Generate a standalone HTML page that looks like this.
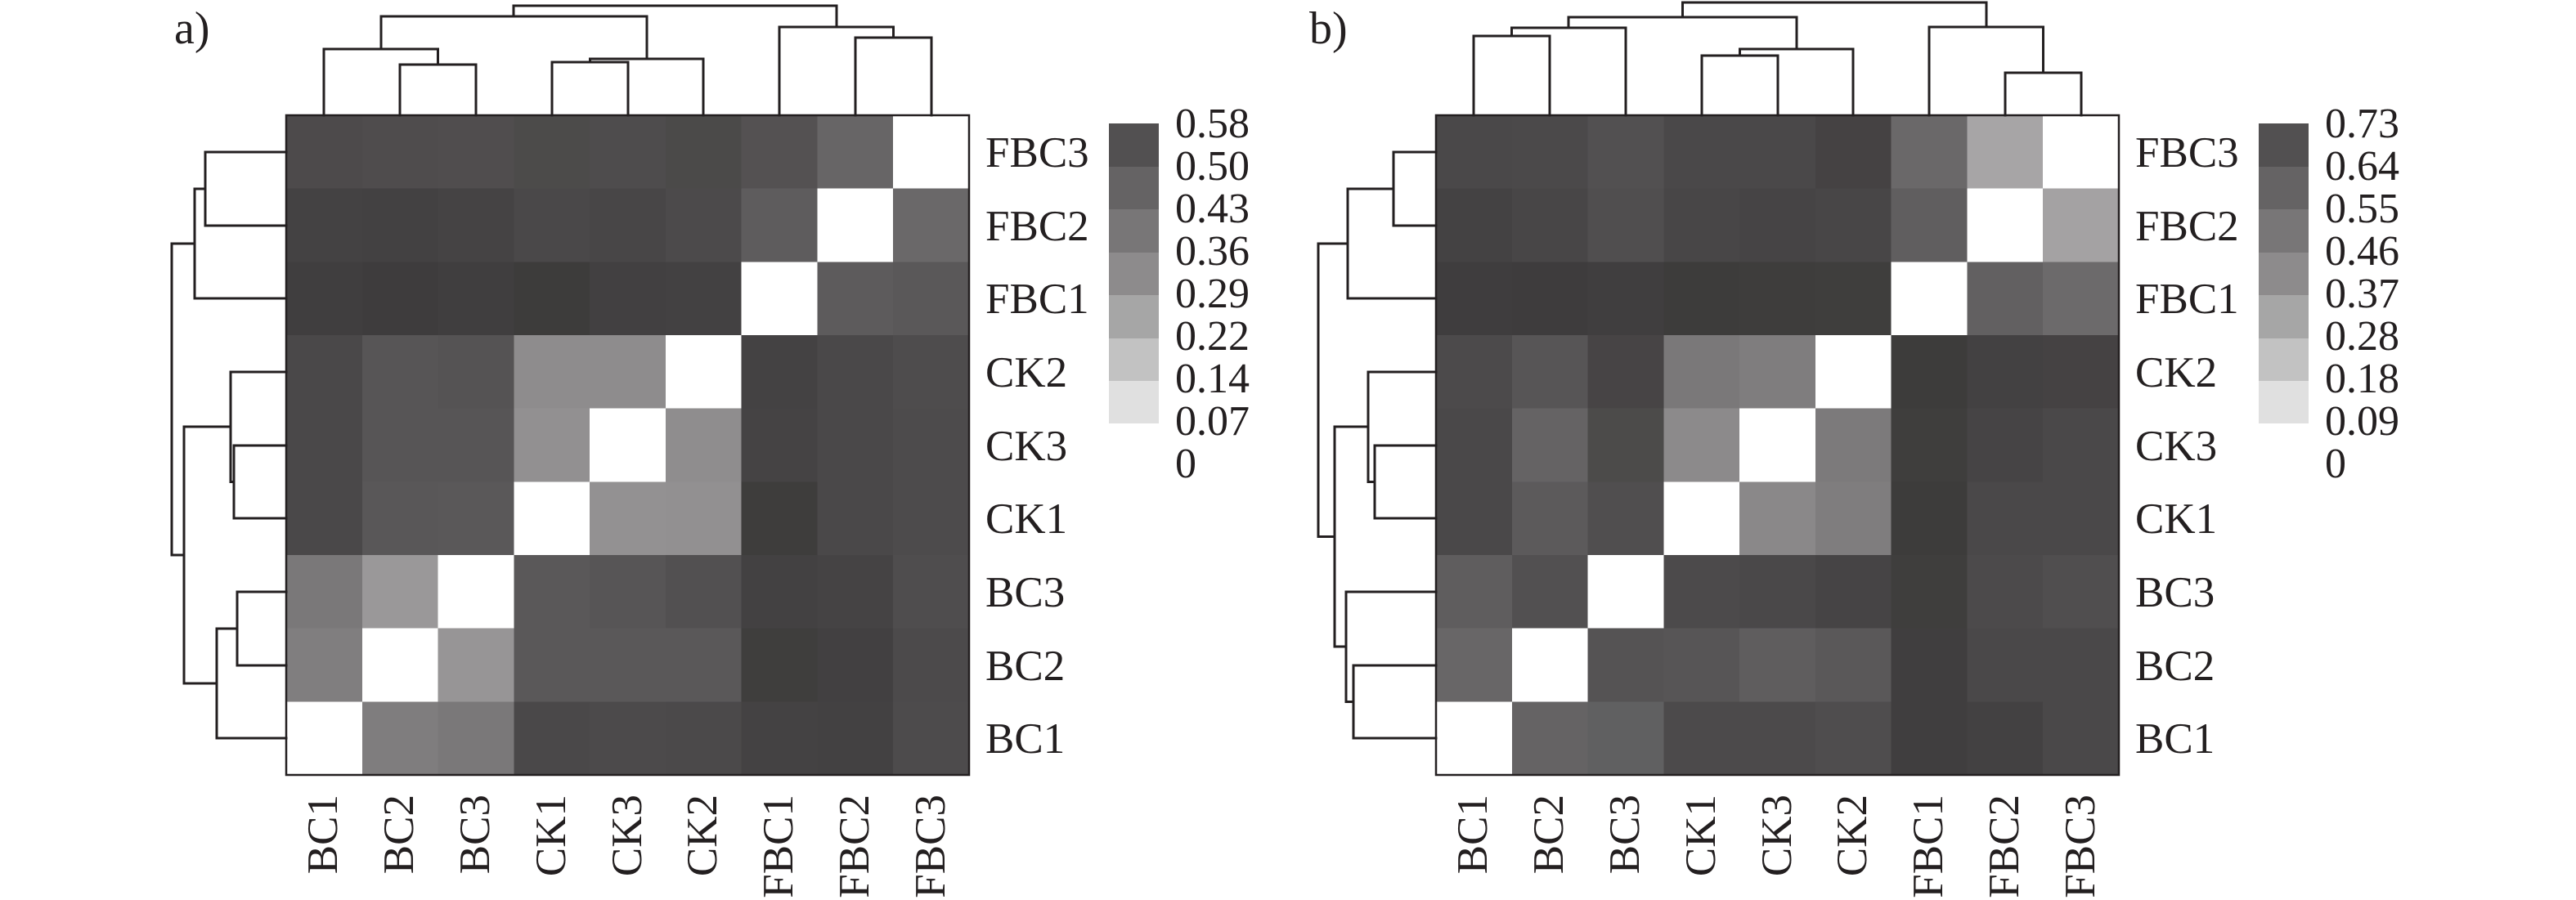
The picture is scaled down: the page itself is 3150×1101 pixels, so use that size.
<!DOCTYPE html>
<html><head><meta charset="utf-8"><style>
html,body{margin:0;padding:0;background:#fff;}
svg{display:block;}
text{font-family:"Liberation Serif",serif;fill:#231f20;}
</style></head><body>
<svg width="3150" height="1101" viewBox="0 0 3150 1101" xmlns="http://www.w3.org/2000/svg">
<rect width="3150" height="1101" fill="#fff"/>

<!-- ===== Panel A ===== -->
<g>
<text x="213" y="53" font-size="56">a)</text>
<svg x="350" y="141" width="835" height="807" viewBox="0 0 9 9" preserveAspectRatio="none" shape-rendering="crispEdges">
<rect x="0" y="0" width="1" height="1" fill="#4d4a4b"/><rect x="1" y="0" width="1" height="1" fill="#4f4c4d"/><rect x="2" y="0" width="1" height="1" fill="#504d4e"/><rect x="3" y="0" width="1" height="1" fill="#4c4b4a"/><rect x="4" y="0" width="1" height="1" fill="#4e4c4d"/><rect x="5" y="0" width="1" height="1" fill="#4b4a49"/><rect x="6" y="0" width="1" height="1" fill="#545152"/><rect x="7" y="0" width="1" height="1" fill="#676566"/><rect x="8" y="0" width="1" height="1" fill="#fff"/>
<rect x="0" y="1" width="1" height="1" fill="#444243"/><rect x="1" y="1" width="1" height="1" fill="#434142"/><rect x="2" y="1" width="1" height="1" fill="#454344"/><rect x="3" y="1" width="1" height="1" fill="#4a4849"/><rect x="4" y="1" width="1" height="1" fill="#484647"/><rect x="5" y="1" width="1" height="1" fill="#4c4a4b"/><rect x="6" y="1" width="1" height="1" fill="#5e5c5d"/><rect x="7" y="1" width="1" height="1" fill="#fff"/><rect x="8" y="1" width="1" height="1" fill="#6a6869"/>
<rect x="0" y="2" width="1" height="1" fill="#403e3f"/><rect x="1" y="2" width="1" height="1" fill="#3e3c3d"/><rect x="2" y="2" width="1" height="1" fill="#403e3f"/><rect x="3" y="2" width="1" height="1" fill="#3d3c3b"/><rect x="4" y="2" width="1" height="1" fill="#424041"/><rect x="5" y="2" width="1" height="1" fill="#434142"/><rect x="6" y="2" width="1" height="1" fill="#fff"/><rect x="7" y="2" width="1" height="1" fill="#5d5b5c"/><rect x="8" y="2" width="1" height="1" fill="#5a5859"/>
<rect x="0" y="3" width="1" height="1" fill="#4a4849"/><rect x="1" y="3" width="1" height="1" fill="#575556"/><rect x="2" y="3" width="1" height="1" fill="#555354"/><rect x="3" y="3" width="1" height="1" fill="#8e8c8d"/><rect x="4" y="3" width="1" height="1" fill="#8e8c8d"/><rect x="5" y="3" width="1" height="1" fill="#fff"/><rect x="6" y="3" width="1" height="1" fill="#444243"/><rect x="7" y="3" width="1" height="1" fill="#4a4849"/><rect x="8" y="3" width="1" height="1" fill="#4e4c4d"/>
<rect x="0" y="4" width="1" height="1" fill="#4a4849"/><rect x="1" y="4" width="1" height="1" fill="#575556"/><rect x="2" y="4" width="1" height="1" fill="#575556"/><rect x="3" y="4" width="1" height="1" fill="#929091"/><rect x="4" y="4" width="1" height="1" fill="#fff"/><rect x="5" y="4" width="1" height="1" fill="#8f8d8e"/><rect x="6" y="4" width="1" height="1" fill="#454344"/><rect x="7" y="4" width="1" height="1" fill="#4a4849"/><rect x="8" y="4" width="1" height="1" fill="#4d4b4c"/>
<rect x="0" y="5" width="1" height="1" fill="#4a4849"/><rect x="1" y="5" width="1" height="1" fill="#595758"/><rect x="2" y="5" width="1" height="1" fill="#5a5859"/><rect x="3" y="5" width="1" height="1" fill="#fff"/><rect x="4" y="5" width="1" height="1" fill="#939192"/><rect x="5" y="5" width="1" height="1" fill="#929091"/><rect x="6" y="5" width="1" height="1" fill="#3e3d3c"/><rect x="7" y="5" width="1" height="1" fill="#4a4849"/><rect x="8" y="5" width="1" height="1" fill="#4d4b4c"/>
<rect x="0" y="6" width="1" height="1" fill="#7a7879"/><rect x="1" y="6" width="1" height="1" fill="#9a9899"/><rect x="2" y="6" width="1" height="1" fill="#fff"/><rect x="3" y="6" width="1" height="1" fill="#5a5859"/><rect x="4" y="6" width="1" height="1" fill="#575556"/><rect x="5" y="6" width="1" height="1" fill="#525051"/><rect x="6" y="6" width="1" height="1" fill="#434142"/><rect x="7" y="6" width="1" height="1" fill="#454344"/><rect x="8" y="6" width="1" height="1" fill="#4f4d4e"/>
<rect x="0" y="7" width="1" height="1" fill="#807e7f"/><rect x="1" y="7" width="1" height="1" fill="#fff"/><rect x="2" y="7" width="1" height="1" fill="#979596"/><rect x="3" y="7" width="1" height="1" fill="#5a5859"/><rect x="4" y="7" width="1" height="1" fill="#5a5859"/><rect x="5" y="7" width="1" height="1" fill="#5a5859"/><rect x="6" y="7" width="1" height="1" fill="#3f3e3d"/><rect x="7" y="7" width="1" height="1" fill="#424041"/><rect x="8" y="7" width="1" height="1" fill="#4c4a4b"/>
<rect x="0" y="8" width="1" height="1" fill="#fff"/><rect x="1" y="8" width="1" height="1" fill="#7f7d7e"/><rect x="2" y="8" width="1" height="1" fill="#7a7879"/><rect x="3" y="8" width="1" height="1" fill="#4a4849"/><rect x="4" y="8" width="1" height="1" fill="#4c4a4b"/><rect x="5" y="8" width="1" height="1" fill="#4b494a"/><rect x="6" y="8" width="1" height="1" fill="#444243"/><rect x="7" y="8" width="1" height="1" fill="#434142"/><rect x="8" y="8" width="1" height="1" fill="#4d4b4c"/>
</svg>
<rect x="350" y="141" width="835" height="807" fill="none" stroke="#231f20" stroke-width="2.5"/>
<g fill="none" stroke="#231f20" stroke-width="3" stroke-linejoin="miter" stroke-linecap="square">
<path d="M489 141V79H582V141M396 141V60H535.5V79M675 141V76H768V141M721.5 76V72H860V141M466 60V20H791V72M1046 141V46H1139V141M953 141V33H1092.5V46M628 20V7H1023V33"/>
<path d="M350 186H251V276H350M350 365H238V231H251M350 545H286V634H350M350 455H282V589.5H286M350 724H290V814H350M350 903H265V769H290M282 522H225V836H265M238 298H210V679H225"/>
</g>
<g font-size="53">
<text x="1205" y="204">FBC3</text><text x="1205" y="294">FBC2</text><text x="1205" y="383">FBC1</text>
<text x="1205" y="473">CK2</text><text x="1205" y="563">CK3</text><text x="1205" y="652">CK1</text>
<text x="1205" y="742">BC3</text><text x="1205" y="832">BC2</text><text x="1205" y="921">BC1</text>
</g>
<g font-size="53" text-anchor="end">
<text transform="translate(412,972) rotate(-90)">BC1</text>
<text transform="translate(505,972) rotate(-90)">BC2</text>
<text transform="translate(598,972) rotate(-90)">BC3</text>
<text transform="translate(691,972) rotate(-90)">CK1</text>
<text transform="translate(784,972) rotate(-90)">CK3</text>
<text transform="translate(876,972) rotate(-90)">CK2</text>
<text transform="translate(969,972) rotate(-90)">FBC1</text>
<text transform="translate(1062,972) rotate(-90)">FBC2</text>
<text transform="translate(1155,972) rotate(-90)">FBC3</text>
</g>
<g shape-rendering="crispEdges">
<rect x="1356" y="151" width="61" height="53" fill="#525051"/>
<rect x="1356" y="204" width="61" height="52" fill="#656364"/>
<rect x="1356" y="256" width="61" height="53" fill="#787677"/>
<rect x="1356" y="309" width="61" height="52" fill="#8d8b8c"/>
<rect x="1356" y="361" width="61" height="53" fill="#a6a6a6"/>
<rect x="1356" y="414" width="61" height="52" fill="#c2c2c2"/>
<rect x="1356" y="466" width="61" height="52" fill="#e0e0e0"/>
</g>
<g font-size="52">
<text x="1437" y="168">0.58</text><text x="1437" y="220">0.50</text><text x="1437" y="272">0.43</text>
<text x="1437" y="324">0.36</text><text x="1437" y="376">0.29</text><text x="1437" y="428">0.22</text>
<text x="1437" y="480">0.14</text><text x="1437" y="532">0.07</text><text x="1437" y="584">0</text>
</g>
</g>

<!-- ===== Panel B ===== -->
<g transform="translate(1406,0)">
<text x="195" y="53" font-size="56">b)</text>
<svg x="350" y="141" width="835" height="807" viewBox="0 0 9 9" preserveAspectRatio="none" shape-rendering="crispEdges">
<rect x="0" y="0" width="1" height="1" fill="#4a4849"/><rect x="1" y="0" width="1" height="1" fill="#4b494a"/><rect x="2" y="0" width="1" height="1" fill="#525051"/><rect x="3" y="0" width="1" height="1" fill="#4a4849"/><rect x="4" y="0" width="1" height="1" fill="#4a4849"/><rect x="5" y="0" width="1" height="1" fill="#454243"/><rect x="6" y="0" width="1" height="1" fill="#6a6869"/><rect x="7" y="0" width="1" height="1" fill="#a7a5a6"/><rect x="8" y="0" width="1" height="1" fill="#fff"/>
<rect x="0" y="1" width="1" height="1" fill="#444243"/><rect x="1" y="1" width="1" height="1" fill="#484647"/><rect x="2" y="1" width="1" height="1" fill="#504e4f"/><rect x="3" y="1" width="1" height="1" fill="#484647"/><rect x="4" y="1" width="1" height="1" fill="#464445"/><rect x="5" y="1" width="1" height="1" fill="#484647"/><rect x="6" y="1" width="1" height="1" fill="#605e5f"/><rect x="7" y="1" width="1" height="1" fill="#fff"/><rect x="8" y="1" width="1" height="1" fill="#a4a2a3"/>
<rect x="0" y="2" width="1" height="1" fill="#3f3d3e"/><rect x="1" y="2" width="1" height="1" fill="#3e3c3d"/><rect x="2" y="2" width="1" height="1" fill="#403e3f"/><rect x="3" y="2" width="1" height="1" fill="#3d3c3b"/><rect x="4" y="2" width="1" height="1" fill="#3e3d3c"/><rect x="5" y="2" width="1" height="1" fill="#3f3e3d"/><rect x="6" y="2" width="1" height="1" fill="#fff"/><rect x="7" y="2" width="1" height="1" fill="#626061"/><rect x="8" y="2" width="1" height="1" fill="#6c6a6b"/>
<rect x="0" y="3" width="1" height="1" fill="#4c4a4b"/><rect x="1" y="3" width="1" height="1" fill="#575556"/><rect x="2" y="3" width="1" height="1" fill="#474445"/><rect x="3" y="3" width="1" height="1" fill="#7a7879"/><rect x="4" y="3" width="1" height="1" fill="#7f7d7e"/><rect x="5" y="3" width="1" height="1" fill="#fff"/><rect x="6" y="3" width="1" height="1" fill="#3d3c3b"/><rect x="7" y="3" width="1" height="1" fill="#434142"/><rect x="8" y="3" width="1" height="1" fill="#454243"/>
<rect x="0" y="4" width="1" height="1" fill="#4a4849"/><rect x="1" y="4" width="1" height="1" fill="#656364"/><rect x="2" y="4" width="1" height="1" fill="#4c4b4a"/><rect x="3" y="4" width="1" height="1" fill="#8c8a8b"/><rect x="4" y="4" width="1" height="1" fill="#fff"/><rect x="5" y="4" width="1" height="1" fill="#7c7a7b"/><rect x="6" y="4" width="1" height="1" fill="#3f3e3d"/><rect x="7" y="4" width="1" height="1" fill="#464445"/><rect x="8" y="4" width="1" height="1" fill="#4a4849"/>
<rect x="0" y="5" width="1" height="1" fill="#4a4849"/><rect x="1" y="5" width="1" height="1" fill="#5c5a5b"/><rect x="2" y="5" width="1" height="1" fill="#504e4f"/><rect x="3" y="5" width="1" height="1" fill="#fff"/><rect x="4" y="5" width="1" height="1" fill="#8a8889"/><rect x="5" y="5" width="1" height="1" fill="#7f7d7e"/><rect x="6" y="5" width="1" height="1" fill="#3d3c3b"/><rect x="7" y="5" width="1" height="1" fill="#4a4849"/><rect x="8" y="5" width="1" height="1" fill="#4a4849"/>
<rect x="0" y="6" width="1" height="1" fill="#5f5d5e"/><rect x="1" y="6" width="1" height="1" fill="#525051"/><rect x="2" y="6" width="1" height="1" fill="#fff"/><rect x="3" y="6" width="1" height="1" fill="#4c4a4b"/><rect x="4" y="6" width="1" height="1" fill="#4a4849"/><rect x="5" y="6" width="1" height="1" fill="#464445"/><rect x="6" y="6" width="1" height="1" fill="#3f3e3d"/><rect x="7" y="6" width="1" height="1" fill="#4c4a4b"/><rect x="8" y="6" width="1" height="1" fill="#504e4f"/>
<rect x="0" y="7" width="1" height="1" fill="#686667"/><rect x="1" y="7" width="1" height="1" fill="#fff"/><rect x="2" y="7" width="1" height="1" fill="#555354"/><rect x="3" y="7" width="1" height="1" fill="#575556"/><rect x="4" y="7" width="1" height="1" fill="#5f5d5e"/><rect x="5" y="7" width="1" height="1" fill="#5a5859"/><rect x="6" y="7" width="1" height="1" fill="#403e3f"/><rect x="7" y="7" width="1" height="1" fill="#4a4849"/><rect x="8" y="7" width="1" height="1" fill="#4a4849"/>
<rect x="0" y="8" width="1" height="1" fill="#fff"/><rect x="1" y="8" width="1" height="1" fill="#656364"/><rect x="2" y="8" width="1" height="1" fill="#606061"/><rect x="3" y="8" width="1" height="1" fill="#4c4a4b"/><rect x="4" y="8" width="1" height="1" fill="#4c4a4b"/><rect x="5" y="8" width="1" height="1" fill="#4f4d4e"/><rect x="6" y="8" width="1" height="1" fill="#403e3f"/><rect x="7" y="8" width="1" height="1" fill="#434142"/><rect x="8" y="8" width="1" height="1" fill="#4a4849"/>
</svg>
<rect x="350" y="141" width="835" height="807" fill="none" stroke="#231f20" stroke-width="2.5"/>
<g fill="none" stroke="#231f20" stroke-width="3" stroke-linejoin="miter" stroke-linecap="square">
<path d="M396 141V44H489V141M442.5 44V34H582V141M675 141V68H768V141M721.5 68V60H860V141M512 34V21H791V60M1046 141V89H1139V141M953 141V33H1092.5V89M651.5 21V3H1023V33"/>
<path d="M350 186H298V276H350M350 365H242V231H298M350 545H275V634H350M350 455H267V589.5H275M350 814H249V903H350M350 724H240V858.5H249M267 522H226V791H240M242 298H206V656.5H226"/>
</g>
<g font-size="53">
<text x="1205" y="204">FBC3</text><text x="1205" y="294">FBC2</text><text x="1205" y="383">FBC1</text>
<text x="1205" y="473">CK2</text><text x="1205" y="563">CK3</text><text x="1205" y="652">CK1</text>
<text x="1205" y="742">BC3</text><text x="1205" y="832">BC2</text><text x="1205" y="921">BC1</text>
</g>
<g font-size="53" text-anchor="end">
<text transform="translate(412,972) rotate(-90)">BC1</text>
<text transform="translate(505,972) rotate(-90)">BC2</text>
<text transform="translate(598,972) rotate(-90)">BC3</text>
<text transform="translate(691,972) rotate(-90)">CK1</text>
<text transform="translate(784,972) rotate(-90)">CK3</text>
<text transform="translate(876,972) rotate(-90)">CK2</text>
<text transform="translate(969,972) rotate(-90)">FBC1</text>
<text transform="translate(1062,972) rotate(-90)">FBC2</text>
<text transform="translate(1155,972) rotate(-90)">FBC3</text>
</g>
<g shape-rendering="crispEdges">
<rect x="1356" y="151" width="61" height="53" fill="#525051"/>
<rect x="1356" y="204" width="61" height="52" fill="#656364"/>
<rect x="1356" y="256" width="61" height="53" fill="#787677"/>
<rect x="1356" y="309" width="61" height="52" fill="#8d8b8c"/>
<rect x="1356" y="361" width="61" height="53" fill="#a6a6a6"/>
<rect x="1356" y="414" width="61" height="52" fill="#c2c2c2"/>
<rect x="1356" y="466" width="61" height="52" fill="#e0e0e0"/>
</g>
<g font-size="52">
<text x="1437" y="168">0.73</text><text x="1437" y="220">0.64</text><text x="1437" y="272">0.55</text>
<text x="1437" y="324">0.46</text><text x="1437" y="376">0.37</text><text x="1437" y="428">0.28</text>
<text x="1437" y="480">0.18</text><text x="1437" y="532">0.09</text><text x="1437" y="584">0</text>
</g>
</g>
</svg>
</body></html>
